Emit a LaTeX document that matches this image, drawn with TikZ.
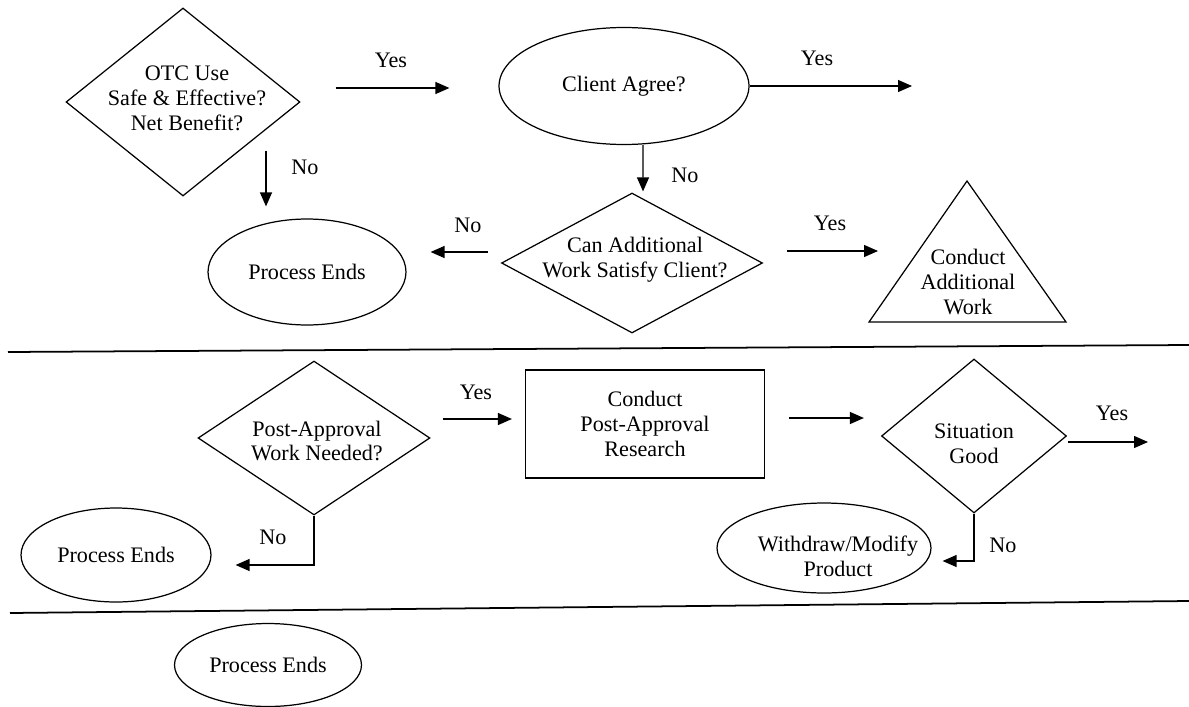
\documentclass[tikz,border=0pt]{standalone}
\usepackage{fontspec}
\setmainfont{Liberation Serif}
\usetikzlibrary{arrows.meta,positioning,shapes.geometric,calc}

\begin{document}
\begin{tikzpicture}[
        x=0.02cm, y=-0.02cm,
        font=\fontsize{12.6}{14.2}\selectfont,
        dec/.style={diamond, draw, line width=0.7pt, inner sep=0pt},
        term/.style={ellipse, draw, line width=0.7pt, inner sep=0pt, align=center},
        box/.style={rectangle, draw, line width=0.7pt, align=center},
        txt/.style={align=center, inner sep=0pt},
        lbl/.style={inner sep=1pt},
        arr/.style={-{Triangle[length=0.28cm, width=0.24cm]}, line width=0.7pt},
        sep/.style={line width=1pt}
      ]
        \useasboundingbox (0,0) rectangle (1189,706);

        % Top band
        \node[dec, minimum width=4.68cm, minimum height=3.76cm,
          label={[txt, name=otc-t, xshift=0.08cm, yshift=0.08cm]center:OTC Use\\Safe \& Effective?\\Net Benefit?}]
          (otc) at (183,102) {};
        \node[term, minimum width=5cm, minimum height=2.34cm] (agree) at (624,86) {Client Agree?};
        \node[term, minimum width=3.96cm, minimum height=2.12cm] (end1) at (307,272) {Process Ends};
        \node[dec, minimum width=5.22cm, minimum height=2.8cm,
          label={[txt, name=more-t, xshift=0.06cm, yshift=0.07cm]center:Can Additional\\Work Satisfy Client?}]
          (more) at (632,263) {};
        \node[txt] (work) at (968,282) {Conduct\\Additional\\Work};
        \draw[line width=0.7pt] (967,181) -- (1066,322) -- (869,322) -- cycle;
        \coordinate (out1) at (912,86);

        \draw[arr] ([shift={(35,-14)}]otc.east) -- ([shift={(-49,2)}]agree.west);
        \draw[arr] (agree.east) -- (out1);
        \draw[arr] ([shift={(83,-46)}]otc.south) -- ([shift={(-41,-12)}]end1.north);
        \draw[arr] ([xshift=0.38cm]agree.south) -- ([shift={(11,-1)}]more.north);
        \draw[arr] ([shift={(-13,-11)}]more.west) -- ([shift={(24,-20)}]end1.east);
        \draw[arr] ([shift={(24,-12)}]more.east) -- ([shift={(-90,-31)}]work.center);

        \node[lbl] (yes1) at (391,60) {Yes};
        \node[lbl] (no1)  at (305,167) {No};
        \node[lbl] (yes2) at (817,58) {Yes};
        \node[lbl] (no2)  at (685,175) {No};
        \node[lbl] (no3)  at (468,225) {No};
        \node[lbl] (yes3) at (830,223) {Yes};

        \draw[sep] (8,352) -- (1189,345);

        % Middle band
        \node[dec, minimum width=4.64cm, minimum height=3.08cm,
          label={[txt, name=post-t, xshift=0.06cm, yshift=-0.06cm]center:Post-Approval\\Work Needed?}]
          (post) at (314,438) {};
        \node[box, minimum width=4.78cm, minimum height=2.16cm] (res) at (645,424) {Conduct\\Post-Approval\\Research};
        \node[dec, minimum width=3.7cm, minimum height=3.08cm,
          label={[txt, name=good-t, yshift=-0.16cm]center:Situation\\Good}]
          (good) at (974,436) {};
        \node[term, minimum width=3.8cm, minimum height=1.88cm] (end2) at (116,555) {Process Ends};
        \node[term, minimum width=4.28cm, minimum height=1.8cm,
          label={[txt, name=mod-t, xshift=0.28cm, yshift=-0.17cm]center:Withdraw/Modify\\Product}]
          (mod) at (824,548) {};
        \coordinate (out2) at (1148,442);

        \draw[arr] ([shift={(12,-19)}]post.east) -- ([shift={(-13,-5)}]res.west);
        \draw[arr] ([shift={(24,-6)}]res.east) -- ([shift={(-17,-18)}]good.west);
        \draw[arr] ([shift={(1,6)}]good.east) -- (out2);
        \draw[arr] (good.south) |- ([shift={(11,13)}]mod.east);
        \draw[arr] (post.south) |- ([shift={(24,10)}]end2.east);

        \node[lbl] (yes4) at (476,392) {Yes};
        \node[lbl] (yes5) at (1112,413) {Yes};
        \node[lbl] (no4)  at (273,537) {No};
        \node[lbl] (no5)  at (1003,545) {No};

        \draw[sep] (10,613) -- (1189,601);

        % Bottom band
        \node[term, minimum width=3.74cm, minimum height=1.66cm] (end3) at (268,665) {Process Ends};
      \end{tikzpicture}
\end{document}
